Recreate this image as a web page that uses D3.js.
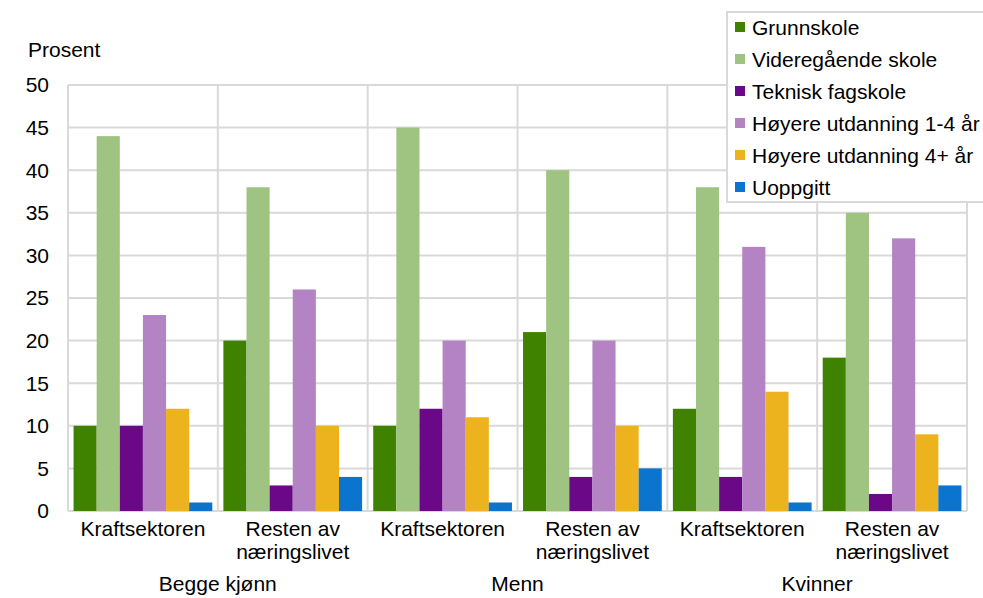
<!DOCTYPE html>
<html>
<head>
<meta charset="utf-8">
<script src="https://cdn.jsdelivr.net/npm/d3@7"></script>
<style>
  body { margin: 0; background: #fff; }
  svg text { font-family: "Liberation Sans", Arial, sans-serif; fill: #000; }
</style>
</head>
<body>
<svg id="chart" width="983" height="598"></svg>
<script>
// data
const groups = ["Begge kjønn", "Menn", "Kvinner"];
const sectors = ["Kraftsektoren", "Resten av næringslivet"];
const series = ["Grunnskole", "Videregående skole", "Teknisk fagskole",
                "Høyere utdanning 1-4 år", "Høyere utdanning 4+ år", "Uoppgitt"];
const colors = ["#3f8200", "#9fc381", "#6a0888", "#b383c3", "#ecb31f", "#0a74cf"];
const values = [
  [10, 44, 10, 23, 12, 1],
  [20, 38, 3, 26, 10, 4],
  [10, 45, 12, 20, 11, 1],
  [21, 40, 4, 20, 10, 5],
  [12, 38, 4, 31, 14, 1],
  [18, 35, 2, 32, 9, 3]
];
const yTicks = [0, 5, 10, 15, 20, 25, 30, 35, 40, 45, 50];

const svg = d3.select("#chart");
const margin = {left: 68, right: 16, top: 85, bottom: 87};
const width = 983 - margin.left - margin.right;
const height = 598 - margin.top - margin.bottom;
const fs = "21px";

// one slot per group/sector pair
const cats = [];
groups.forEach(g => sectors.forEach(s => cats.push(g + "|" + s)));

const x = d3.scaleBand().domain(cats).range([0, width]).paddingInner(0).paddingOuter(0);
const xInner = d3.scaleBand().domain(d3.range(series.length))
    .range([0, x.bandwidth()]).paddingOuter(0.24).paddingInner(0);
const y = d3.scaleLinear().domain([0, 50]).range([height, 0]);

const g = svg.append("g").attr("transform", `translate(${margin.left},${margin.top})`);

// horizontal grid
g.selectAll(".hgrid").data(yTicks).enter().append("line")
    .attr("x1", 0).attr("x2", width)
    .attr("y1", d => y(d)).attr("y2", d => y(d))
    .attr("stroke", "#d9d9d9").attr("stroke-width", 2);

// vertical grid at category edges
const edges = cats.map(c => x(c)).concat([width]);
g.selectAll(".vgrid").data(edges).enter().append("line")
    .attr("x1", d => d).attr("x2", d => d)
    .attr("y1", 0).attr("y2", height)
    .attr("stroke", "#d9d9d9").attr("stroke-width", 2);

// bars
const catG = g.selectAll(".cat").data(cats).enter().append("g")
    .attr("transform", d => `translate(${x(d)},0)`);
catG.selectAll("rect").data((d, i) => values[i].map((v, j) => ({v, j})))
    .enter().append("rect")
    .attr("x", d => xInner(d.j))
    .attr("width", xInner.bandwidth())
    .attr("y", d => y(d.v))
    .attr("height", d => height - y(d.v))
    .attr("fill", d => colors[d.j]);

// y axis labels
g.selectAll(".ylab").data(yTicks).enter().append("text")
    .attr("x", -19).attr("y", d => y(d)).attr("dy", "0.35em")
    .attr("text-anchor", "end").style("font-size", fs)
    .text(d => d);

svg.append("text").attr("x", 28).attr("y", 57)
    .style("font-size", fs).text("Prosent");

// category labels
cats.forEach((c, i) => {
  const s = c.split("|")[1];
  const cx = x(c) + x.bandwidth() / 2;
  const words = s === "Resten av næringslivet" ? ["Resten av", "næringslivet"] : [s];
  words.forEach((w, k) => {
    g.append("text").attr("x", cx).attr("y", height + 25 + k * 23)
      .attr("text-anchor", "middle").style("font-size", fs).text(w);
  });
});

// group labels
groups.forEach((grp, i) => {
  const cx = x(cats[i * 2]) + x.bandwidth();
  g.append("text").attr("x", cx).attr("y", height + 80)
    .attr("text-anchor", "middle").style("font-size", fs).text(grp);
});

// legend
const lg = svg.append("g").attr("transform", "translate(727,12)");
lg.append("rect").attr("x", 0).attr("y", 0).attr("width", 270).attr("height", 190)
    .attr("fill", "#fff").attr("stroke", "#d9d9d9").attr("stroke-width", 2);
series.forEach((s, i) => {
  const yy = 15 + i * 32;
  lg.append("rect").attr("x", 8).attr("y", yy - 5).attr("width", 10).attr("height", 10)
    .attr("fill", colors[i]);
  lg.append("text").attr("x", 25).attr("y", yy).attr("dy", "0.36em")
    .style("font-size", fs).text(s);
});
</script>
</body>
</html>
